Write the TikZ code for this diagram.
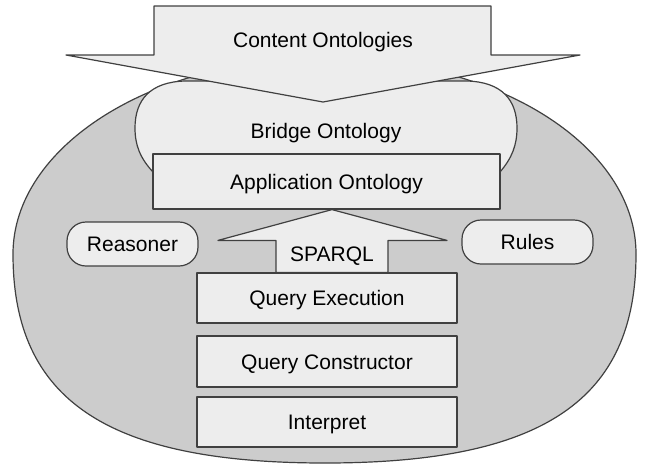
\documentclass[tikz,border=0pt]{standalone}
\usepackage{fontspec}
\setmainfont{Liberation Sans}
\usetikzlibrary{calc}
\definecolor{edgegray}{gray}{0.25}
\definecolor{shellgray}{gray}{0.8}
\definecolor{boxgray}{gray}{0.93}

\begin{document}
\begin{tikzpicture}[x=1pt,y=-1pt,
		outline/.style={draw=edgegray,line width=1.2pt,line join=round},
		lettering/.style={font=\fontsize{21}{24}\selectfont,text height=15pt,text depth=0pt,inner sep=0pt},
		stage/.style={outline,fill=boxgray,lettering,minimum width=260pt,minimum height=50pt},
		pill/.style={outline,fill=boxgray,lettering,rounded corners=19pt,minimum width=131pt,minimum height=44pt}]
			\useasboundingbox (0,0) rectangle (647,464);
			\draw[outline,fill=shellgray] (13,254) .. controls (13,146) and (153,58) .. (325,58) .. controls (497,58) and (636,146) .. (636,254) .. controls (636,400) and (543,463) .. (325,463) .. controls (107,463) and (13,400) .. (13,254) -- cycle;
			\draw[outline,fill=boxgray] (153,172) .. controls (140,158) and (135,145) .. (135,128) .. controls (135,100) and (150,82) .. (185,81) -- (467,81) .. controls (502,82) and (517,100) .. (517,128) .. controls (517,145) and (512,158) .. (500,172) -- cycle;
			\draw[outline,fill=boxgray] (154,6) -- (491,6) -- (491,55) -- (580,55) -- (323,102) -- (66,55) -- (154,55) -- cycle;
			\node[lettering] (content) at (323,40) {Content Ontologies};
			\node[lettering] (bridge) at (326,131) {Bridge Ontology};
			\node[stage,minimum width=347pt,minimum height=55pt] (appont) at (326.5,181.5) {Application Ontology};
			\node[pill] (reasoner) at (132.5,244) {Reasoner};
			\node[pill] (rules) at (527.5,242) {Rules};
			\node[stage] (qexec) at (327,298) {Query Execution};
			\node[stage,minimum height=51pt] (qcons) at (327,361.5) {Query Constructor};
			\node[stage] (interp) at (327,422) {Interpret};
			\draw[outline,fill=boxgray] ($(qexec.north)+(-51,0)$) -- ++(0,-32) -- ++(-58,0) -- ($(appont.south)+(5.5,0)$) -- ($(qexec.north)+(120,-32)$) -- ++(-59,0) -- ($(qexec.north)+(61,0)$) -- cycle;
			\node[lettering] (sparql) at ($(qexec.north)+(5,-18)$) {SPARQL};
		\end{tikzpicture}
\end{document}
